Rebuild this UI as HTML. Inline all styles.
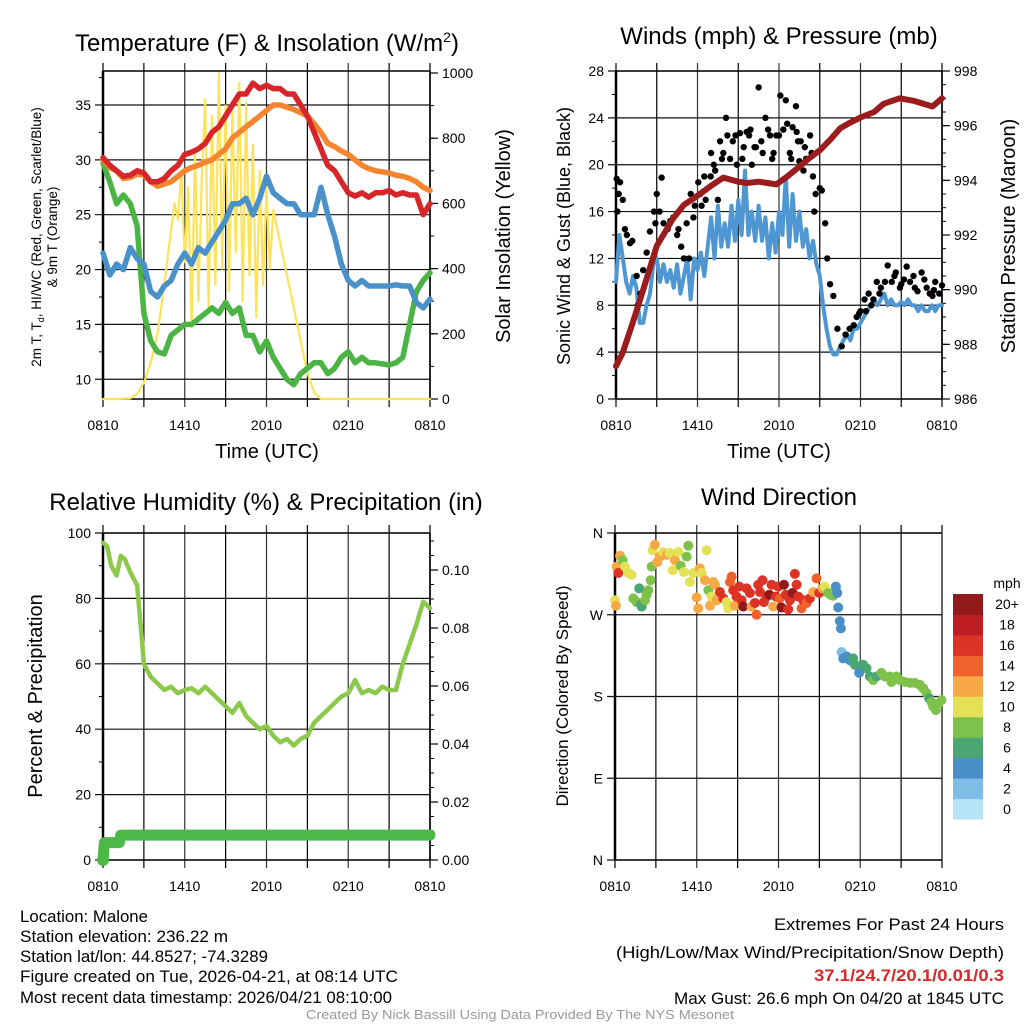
<!DOCTYPE html>
<html><head><meta charset="utf-8"><style>
html,body{margin:0;padding:0;background:#fff}
svg{display:block;font-family:"Liberation Sans",sans-serif}
</style></head><body>
<svg id="fig" width="1024" height="1024" viewBox="0 0 1024 1024" xmlns="http://www.w3.org/2000/svg">
<rect width="1024" height="1024" fill="#fff"/>
<text x="267" y="51" font-size="24" text-anchor="middle">Temperature (F) &amp; Insolation (W/m<tspan dy="-9" font-size="14">2</tspan><tspan dy="9">)</tspan></text>
<text x="779" y="44" font-size="24" text-anchor="middle">Winds (mph) &amp; Pressure (mb)</text>
<text x="266" y="510" font-size="24" text-anchor="middle">Relative Humidity (%) &amp; Precipitation (in)</text>
<text x="779" y="505" font-size="24" text-anchor="middle">Wind Direction</text>
<text x="267" y="458" font-size="20" text-anchor="middle">Time (UTC)</text>
<text x="779" y="458" font-size="20" text-anchor="middle">Time (UTC)</text>
<text font-size="13.5" text-anchor="middle" transform="translate(41,237) rotate(-90)">2m T, T<tspan dy="3" font-size="9">d</tspan><tspan dy="-3">, HI/WC (Red, Green, Scarlet/Blue)</tspan></text>
<text font-size="13.5" text-anchor="middle" transform="translate(57,237) rotate(-90)">&amp; 9m T (Orange)</text>
<text font-size="20" text-anchor="middle" transform="translate(510,236) rotate(-90)">Solar Insolation (Yellow)</text>
<text font-size="18" text-anchor="middle" transform="translate(570,236) rotate(-90)">Sonic Wind &amp; Gust (Blue, Black)</text>
<text font-size="20" text-anchor="middle" transform="translate(1015,236) rotate(-90)">Station Pressure (Maroon)</text>
<text font-size="20" text-anchor="middle" transform="translate(42,696) rotate(-90)">Percent &amp; Precipitation</text>
<text font-size="17" text-anchor="middle" transform="translate(568,696) rotate(-90)">Direction (Colored By Speed)</text>
<g id="plots"></g>
<g font-size="16.5">
<text x="20" y="922" textLength="128" lengthAdjust="spacingAndGlyphs">Location: Malone</text>
<text x="20" y="942" textLength="208" lengthAdjust="spacingAndGlyphs">Station elevation: 236.22 m</text>
<text x="20" y="962" textLength="248" lengthAdjust="spacingAndGlyphs">Station lat/lon: 44.8527; -74.3289</text>
<text x="20" y="982" textLength="378" lengthAdjust="spacingAndGlyphs">Figure created on Tue, 2026-04-21, at 08:14 UTC</text>
<text x="20" y="1003" textLength="372" lengthAdjust="spacingAndGlyphs">Most recent data timestamp: 2026/04/21 08:10:00</text>
</g>
<g font-size="16.5" text-anchor="end">
<text x="1004" y="930" textLength="230" lengthAdjust="spacingAndGlyphs">Extremes For Past 24 Hours</text>
<text x="1004" y="958" textLength="388" lengthAdjust="spacingAndGlyphs">(High/Low/Max Wind/Precipitation/Snow Depth)</text>
<text x="1004" y="981" textLength="190" lengthAdjust="spacingAndGlyphs" fill="#d42a2a" font-weight="bold">37.1/24.7/20.1/0.01/0.3</text>
<text x="1004" y="1004" textLength="330" lengthAdjust="spacingAndGlyphs">Max Gust: 26.6 mph On 04/20 at 1845 UTC</text>
</g>
<text x="520" y="1019" font-size="12.5" fill="#999" text-anchor="middle" textLength="428" lengthAdjust="spacingAndGlyphs">Created By Nick Bassill Using Data Provided By The NYS Mesonet</text>
</svg>
<script>
const xTickLabels = ["0810","1410","2010","0210","0810"];
// Temperature panel
const tempT = [0,0.5,1,1.5,2,2.5,3,3.5,4,4.5,5,5.5,6,6.5,7,7.5,8,8.5,9,9.5,10,10.5,11,11.5,12,12.5,13,13.5,14,14.5,15,15.5,16,16.5,17,17.5,18,18.5,19,19.5,20,20.5,21,21.5,22,22.5,23,23.5,24];
const redT = [30.2,29.5,29,28.5,28.6,29,28.8,28,28,28.3,29,29.5,30.5,30.7,31,31.5,32.5,33,34,35,36,36,37,36.5,36.8,36.5,36.5,36,36,35,34,32.5,31,29.5,29,28,27,26.7,27,26.6,27,27,27.2,26.8,27,26.8,26.8,25,26];
const orangeT = [30,29.3,29,28.3,28.4,28.7,28.6,28,27.6,27.8,28,28.5,29,29.3,29.5,29.8,30,30.5,31,32,32.5,33,33.5,34,34.5,35,35,34.8,34.6,34.3,34,33.3,32.5,31.5,31.2,30.8,30.5,30,29.5,29.2,29,28.9,28.8,28.6,28.5,28.3,28,27.5,27.2];
const blueT = [21.5,19.5,20.5,20,22,21,20.5,18,17.5,18.5,19,20.5,21.5,20.5,22,21.5,22.5,23.5,24.5,26,26,26.5,25,26.5,28.5,27,26.5,26,26,25,25,25,27.5,25,23,20.5,19,18.5,19,18.5,18.5,18.5,18.5,18.6,18.5,18.5,17,16.5,17.3];
const greenT = [29.7,28,26,26.8,26,24,16,13.5,12.5,12.3,14,14.5,15,15,15.5,16,16.5,16,17,16,16.5,14,14,12.5,13.5,12,11,10,9.5,10.5,11,11.5,11.5,10.5,11,12,12.5,11.5,12,11.5,11.5,11.4,11.3,11.5,12,15,18,19,19.7];
const solarT = [0,1,2,2.5,3,3.5,4,4.5,5,5.25,5.5,5.75,6,6.25,6.5,6.75,7,7.25,7.5,7.75,8,8.25,8.5,8.75,9,9.25,9.5,9.75,10,10.25,10.5,10.75,11,11.25,11.5,11.75,12,12.25,12.5,13,13.5,14,14.5,15,15.5,16,24];
const solarV = [0,0,2,15,50,110,200,350,520,600,550,700,420,650,220,760,300,680,920,280,870,350,1000,400,900,330,880,450,970,300,910,380,780,250,700,350,650,400,580,480,380,280,180,80,20,0,0];
const tempTicks = [10,15,20,25,30,35];
const solarTicks = [0,200,400,600,800,1000];
// Wind panel
const windT = [0,0.25,0.5,0.75,1,1.25,1.5,1.75,2,2.25,2.5,2.75,3,3.25,3.5,3.75,4,4.25,4.5,4.75,5,5.25,5.5,5.75,6,6.25,6.5,6.75,7,7.25,7.5,7.75,8,8.25,8.5,8.75,9,9.25,9.5,9.75,10,10.25,10.5,10.75,11,11.25,11.5,11.75,12,12.25,12.5,12.75,13,13.25,13.5,13.75,14,14.25,14.5,14.75,15,15.25,15.5,15.75,16,16.25,16.5,16.75,17,17.25,17.5,17.75,18,18.25,18.5,18.75,19,19.25,19.5,19.75,20,20.25,20.5,20.75,21,21.25,21.5,21.75,22,22.25,22.5,22.75,23,23.25,23.5,23.75,24];
const windV = [10,14,12,10,9,10.5,9.5,6.5,6.5,8,9,11.5,12,10,11.5,10,11,9.5,11.5,9,10.5,12,8.5,12,11,12.5,10.5,13,15.5,12,16.5,13,15,13,16.5,13.5,17,14,19.5,14,16,13.5,16.5,13.5,15.5,12,15,12.5,16,14,19,13,17.5,13.5,16,13,14.5,12,13.5,11.5,10.5,8,6,4.5,3.8,3.8,4.5,5,5.5,5,6,6,6.5,7,7.5,8,8.5,8,8.5,9,8,8.5,8,8,8.3,8,8.5,8,8,7.5,8,7.5,7.5,8,7.5,8,8];
const pressT = [0,0.5,1.3,2,3,4.2,5,5.9,7,7.9,9,9.6,10.5,11.8,12.5,13.5,14.2,15,15.8,16.5,17.2,18,19,19.7,20.9,22,23.3,24];
const pressV = [987.2,987.7,988.9,990,991.6,992.6,993.1,993.4,993.8,994.1,993.95,993.9,993.95,993.85,994.1,994.5,994.8,995.1,995.5,995.9,996.1,996.3,996.5,996.8,997,996.9,996.7,997];
const gustT = [0.05,0.1,0.2,0.3,0.5,0.66,0.8,1.03,1.2,1.52,1.6,1.8,2.0,2.26,2.5,2.8,3.0,3.36,3.5,3.8,4.22,4.5,4.8,5.0,5.38,5.5,5.7,6.06,6.3,6.6,6.97,7.2,7.5,7.66,7.9,8.1,8.4,8.6,8.9,9.13,9.3,9.62,9.9,10.2,10.5,10.7,11.0,11.34,11.5,11.8,12.1,12.32,12.5,12.8,13.0,13.25,13.4,13.6,13.9,14.29,14.4,14.5,14.6,14.7,15.0,15.15,15.4,15.55,15.76,16.0,16.3,16.62,16.9,17.2,17.5,17.72,18.0,18.3,18.6,18.95,19.2,19.5,19.8,20.0,20.3,20.6,20.9,21.2,21.4,21.65,21.9,22.2,22.5,22.87,23.1,23.3,23.5,23.8,24,6.5,7.0,7.3,7.8,8.2,8.8,9.4,9.8,10.0,10.3,10.8,11.2,11.6,12.0,12.6,12.9,13.3,13.5,13.8,14.0,5.2,5.8,6.2,4.6,4.0,3.2,2.9,20.5,21.0,22.0,22.7,23.4,19.4,18.8,18.4,17.9];
const gustV = [18.8,16,17.5,18.5,17,14.5,14,13.3,13.5,10.5,8,9,11,12.5,14.3,16,17.5,18.9,15,14.5,15.5,14,13,12,12,17.5,15.5,18.5,16.5,17,19,20,17,22,21,24,20.5,22,20,22.7,20.5,22.8,23,21.5,26.6,22,24,22.5,20.5,22.5,25.9,23,25.5,21,23.2,25,22,22,21.5,22.5,21,19,16,17.5,18,17.8,15,12,9.8,8.8,6,4.5,5.5,6,6.3,7,7.5,8.5,9,8.5,10,9.5,10,11.4,10,10.8,9.5,10.2,11.3,10,10.5,9.2,10.8,9.5,9,8.8,10,9,9.7,19,21,19.5,20.5,22.5,22.5,21.5,22.5,20,21.5,21,23,21,22.5,23.5,20.5,22.8,20.3,19.5,20.5,15,16.5,17.5,14.5,15.2,16,15,10.5,9.8,9.5,10.2,9.3,9,8,7.5,7.3];
const windTicks = [0,4,8,12,16,20,24,28];
const pressTicks = [986,988,990,992,994,996,998];
// RH panel
const rhT = [0,0.3,0.6,1,1.3,1.6,2,2.5,2.8,3,3.5,4,4.5,5,5.5,6,6.5,7,7.5,8,8.5,9,9.5,10,10.5,11,11.5,12,12.5,13,13.5,14,14.5,15,15.5,16,16.5,17,17.5,18,18.5,19,19.5,20,20.5,21,21.5,22,22.5,23,23.5,24];
const rhV = [97,96,90,87,93,92,88,84,70,60,56,54,52,53,51,52,52.5,51,53,51,49,47,45,48,44,42,40,41,38,36,37,35,37,38,42,44,46,48,50,51,55,51,52,51,53,52,52,60,66,72,79,77];
const precipT = [0,0.1,1.2,1.3,24];
const precipV = [0,0.006,0.006,0.0086,0.0086];
const rhTicks = [0,20,40,60,80,100];
const precipTicks = ["0.00","0.02","0.04","0.06","0.08","0.10"];
// Direction panel
const dirT = [0,0.07,0.12,0.24,0.37,0.56,0.73,0.98,1.22,1.34,1.59,1.78,1.96,1.9,2.2,2.32,2.44,2.62,2.69,2.76,2.93,3.1,3.3,3.55,3.79,4.03,4.23,4.4,4.65,4.82,5.06,5.26,5.38,5.5,5.75,5.99,6.11,6.23,6.36,6.6,6.72,6.85,6.97,7.09,7.21,7.33,7.46,7.7,7.95,8.19,8.31,8.44,8.56,8.68,8.8,8.92,9.12,9.29,9.41,9.66,9.9,10.02,10.27,10.39,10.51,10.64,10.83,10.93,11.12,11.32,11.49,11.61,11.81,11.98,12.1,12.22,12.4,12.54,12.71,12.84,13.03,13.2,13.33,13.45,13.69,13.81,14.06,14.3,14.55,14.79,14.99,15.23,15.4,15.65,15.82,16.01,16.21,16.31,16.38,16.5,16.58,16.63,16.75,17,17.24,17.48,17.6,17.85,17.92,18.21,18.46,18.7,18.95,19.19,19.56,19.8,20.17,20.29,20.66,20.9,21.27,21.64,22,22.37,22.62,22.86,23.06,23.23,23.35,23.55,23.72,23.96];
const dirDeg = [286,280,323,316,335,330,323,316,314,288,284,299,279,281,286,292,297,308,323,341,347,328,334,339,336,338,319,330,339,324,317,334,346,306,316,289,277,321,316,308,341,297,280,290,306,303,286,295,288,284,277,306,312,297,280,290,301,286,279,299,294,279,283,270,303,295,308,284,290,292,303,279,290,301,288,278,303,292,276,286,294,315,303,290,277,286,283,288,295,310,294,299,301,294,292,291,301,294,278,263,255,229,222,224,220,222,215,213,206,215,211,202,198,202,206,202,202,196,202,198,196,195,195,193,189,184,178,174,169,165,172,176];
const dirSpd = [10,12,12,16,12,8,10,10,10,8,8,6,6,6,8,8,8,8,8,10,12,12,12,10,12,10,10,12,10,8,10,8,8,10,10,12,12,12,10,12,10,8,12,10,12,12,12,16,16,10,10,14,14,16,12,16,16,16,19,16,16,12,16,14,16,16,16,16,16,19,16,12,16,16,14,19,19,16,16,16,19,16,16,16,14,16,14,16,12,14,16,12,10,8,8,8,4,4,4,4,4,2,4,4,4,6,6,6,4,6,6,6,8,6,8,8,8,8,8,8,8,8,8,8,8,8,6,8,8,8,8,8];
const dirTickLabels = ["N","E","S","W","N"];
const cbarLabels = ["0","2","4","6","8","10","12","14","16","18","20+"];
const cbarColors = ["#b6e3f8","#80bde6","#4a8fc7","#4aa672","#7fc24b","#e5e157","#f6a944","#f0612c","#dd3327","#bd1e24","#931a1c"];

const NS="http://www.w3.org/2000/svg";
const root=document.getElementById('plots');
function mk(tag,attrs,parent){const e=document.createElementNS(NS,tag);for(const k in attrs)e.setAttribute(k,attrs[k]);(parent||root).appendChild(e);return e;}
function lin(d0,d1,r0,r1){return v=>r0+(v-d0)/(d1-d0)*(r1-r0);}
function pathD(xs,ys,sx,sy){return xs.map((t,i)=>(i?'L':'M')+sx(t).toFixed(1)+','+sy(ys[i]).toFixed(1)).join('');}

function frame(L,R,T,B,g){
  for(let i=0;i<=8;i++){const x=L+(R-L)*i/8;
    const ln=mk('line',{x1:x,y1:T-8,x2:x,y2:B+8,stroke:i%2?'#000':'#333','stroke-width':i==0||i==8?1.5:1.2},g);
    
  }
  for(let i=0;i<5;i++){const t=mk('text',{x:L+(R-L)*i/4,y:B+31,'font-size':14,'text-anchor':'middle'},g);t.textContent=xTickLabels[i];
    }
  mk('line',{x1:L,y1:T,x2:R,y2:T,stroke:'#000','stroke-width':1.5},g);
  mk('line',{x1:L,y1:B,x2:R,y2:B,stroke:'#000','stroke-width':1.5},g);
}
function leftAxis(L,R,sy,ticks,minors,labels,g){
  minors.forEach(v=>mk('line',{x1:L-4,y1:sy(v),x2:L,y2:sy(v),stroke:'#000','stroke-width':1},g));
  ticks.forEach((v,i)=>{const y=sy(v);
    mk('line',{x1:L-8,y1:y,x2:R,y2:y,stroke:'#111','stroke-width':1.2},g);
    const t=mk('text',{x:L-12,y:y+5,'font-size':14,'text-anchor':'end'},g);t.textContent=labels?labels[i]:v;
    });
  mk('line',{x1:L,y1:sy.top,x2:L,y2:sy.bot,stroke:'#000','stroke-width':2.5},g);
}
function rightAxis(R,sy,ticks,minors,labels,top,bot,g){
  minors.forEach(v=>mk('line',{x1:R,y1:sy(v),x2:R+4,y2:sy(v),stroke:'#000','stroke-width':1},g));
  ticks.forEach((v,i)=>{const y=sy(v);
    mk('line',{x1:R,y1:y,x2:R+8,y2:y,stroke:'#000','stroke-width':1.2},g);
    const t=mk('text',{x:R+12,y:y+5,'font-size':14},g);t.textContent=labels?labels[i]:v;
    });
  mk('line',{x1:R,y1:top,x2:R,y2:bot,stroke:'#000','stroke-width':1.5},g);
}
function line(xs,ys,sx,sy,color,w,g,name){const p=mk('path',{d:pathD(xs,ys,sx,sy),fill:'none',stroke:color,'stroke-width':w,'stroke-linejoin':'round','stroke-linecap':'round'},g);
  return p;}
function range(a,b,s){const r=[];for(let v=a;v<=b+1e-9;v+=s)r.push(+v.toFixed(4));return r;}

(function(){const g=mk('g',{});
  const L=103,R=430,T=71,B=399;const sx=lin(0,24,L,R);const sy=lin(8.2,38.1,B,T);sy.top=T;sy.bot=B;const sy2=lin(0,1000,B,73);
  frame(L,R,T,B,g);
  leftAxis(L,R,sy,tempTicks,range(12.5,37.5,5),null,g);
  rightAxis(R,sy2,solarTicks,range(100,900,100),null,T,B,g);
  line(solarT,solarV,sx,sy2,'#fde35a',2.2,g,'solar-insolation-line');
  line(tempT,greenT,sx,sy,'#4bb444',5.5,g,'dewpoint-line');
  line(tempT,blueT,sx,sy,'#4a90c9',5.5,g,'wind-chill-line');
  line(tempT,orangeT,sx,sy,'#f5862f',5.5,g,'9m-temperature-line');
  line(tempT,redT,sx,sy,'#d7262a',5.5,g,'2m-temperature-line');
})();
(function(){const g=mk('g',{});
  const L=616,R=942,T=71,B=399;const sx=lin(0,24,L,R);const sy=lin(0,28,B,T);sy.top=T;sy.bot=B;const sy2=lin(986,998,B,T);
  frame(L,R,T,B,g);
  leftAxis(L,R,sy,windTicks,range(2,26,4),null,g);
  rightAxis(R,sy2,pressTicks,range(986.5,997.5,0.5),null,T,B,g);
  line(windT,windV,sx,sy,'#4f97d2',4,g,'sonic-wind-line');
  gustT.forEach((t,i)=>{const c=mk('circle',{cx:sx(t),cy:sy(gustV[i]),r:3.2,fill:'#000'},g);
    });
  line(pressT,pressV,sx,sy2,'#9b1c1c',6,g,'pressure-line');
})();
(function(){const g=mk('g',{});
  const L=103,R=430,T=533,B=860;const sx=lin(0,24,L,R);const sy=lin(0,100,B,T);sy.top=T;sy.bot=B;const sy2=lin(0,0.1,B,570);
  frame(L,R,T,B,g);
  leftAxis(L,R,sy,rhTicks,range(10,90,20),null,g);
  rightAxis(R,sy2,precipTicks.map(Number),range(0.005,0.11,0.005),precipTicks,T,B,g);
  line(rhT,rhV,sx,sy,'#8cc84b',4.5,g,'relative-humidity-line');
  line(precipT,precipV,sx,sy2,'#4cb848',11,g,'precipitation-line');
  const c=mk('circle',{cx:sx(precipT[0]),cy:sy2(precipV[0]),r:6,fill:'#4cb848'},g);
  
})();
(function(){const g=mk('g',{});
  const L=615,R=942,T=533,B=860;const sx=lin(0,24,L,R);const sy=lin(0,360,B,T);sy.top=T;sy.bot=B;
  frame(L,R,T,B,g);
  leftAxis(L,R,sy,[0,90,180,270,360],[],dirTickLabels,g);
  function col(s){let i=Math.round(s/2);if(i>10)i=10;if(i<0)i=0;return cbarColors[i];}
  dirT.forEach((t,i)=>{const c=mk('circle',{cx:sx(t),cy:sy(dirDeg[i]),r:5,fill:col(dirSpd[i])},g);
    });
  const cb=mk('g',{},g);
  const cT=594,cB=819,h=(cB-cT)/cbarColors.length;
  cbarColors.forEach((c,i)=>{const y=cB-(i+1)*h;
    const r=mk('rect',{x:953,y:y,width:30,height:h+0.5,fill:c},cb);
    const t=mk('text',{x:1007,y:y+h/2+5,'font-size':14,'text-anchor':'middle'},cb);t.textContent=cbarLabels[i];
    });
  const m=mk('text',{x:1007,y:588,'font-size':14,'text-anchor':'middle'},cb);m.textContent='mph';
  
})();
</script>
</body></html>
